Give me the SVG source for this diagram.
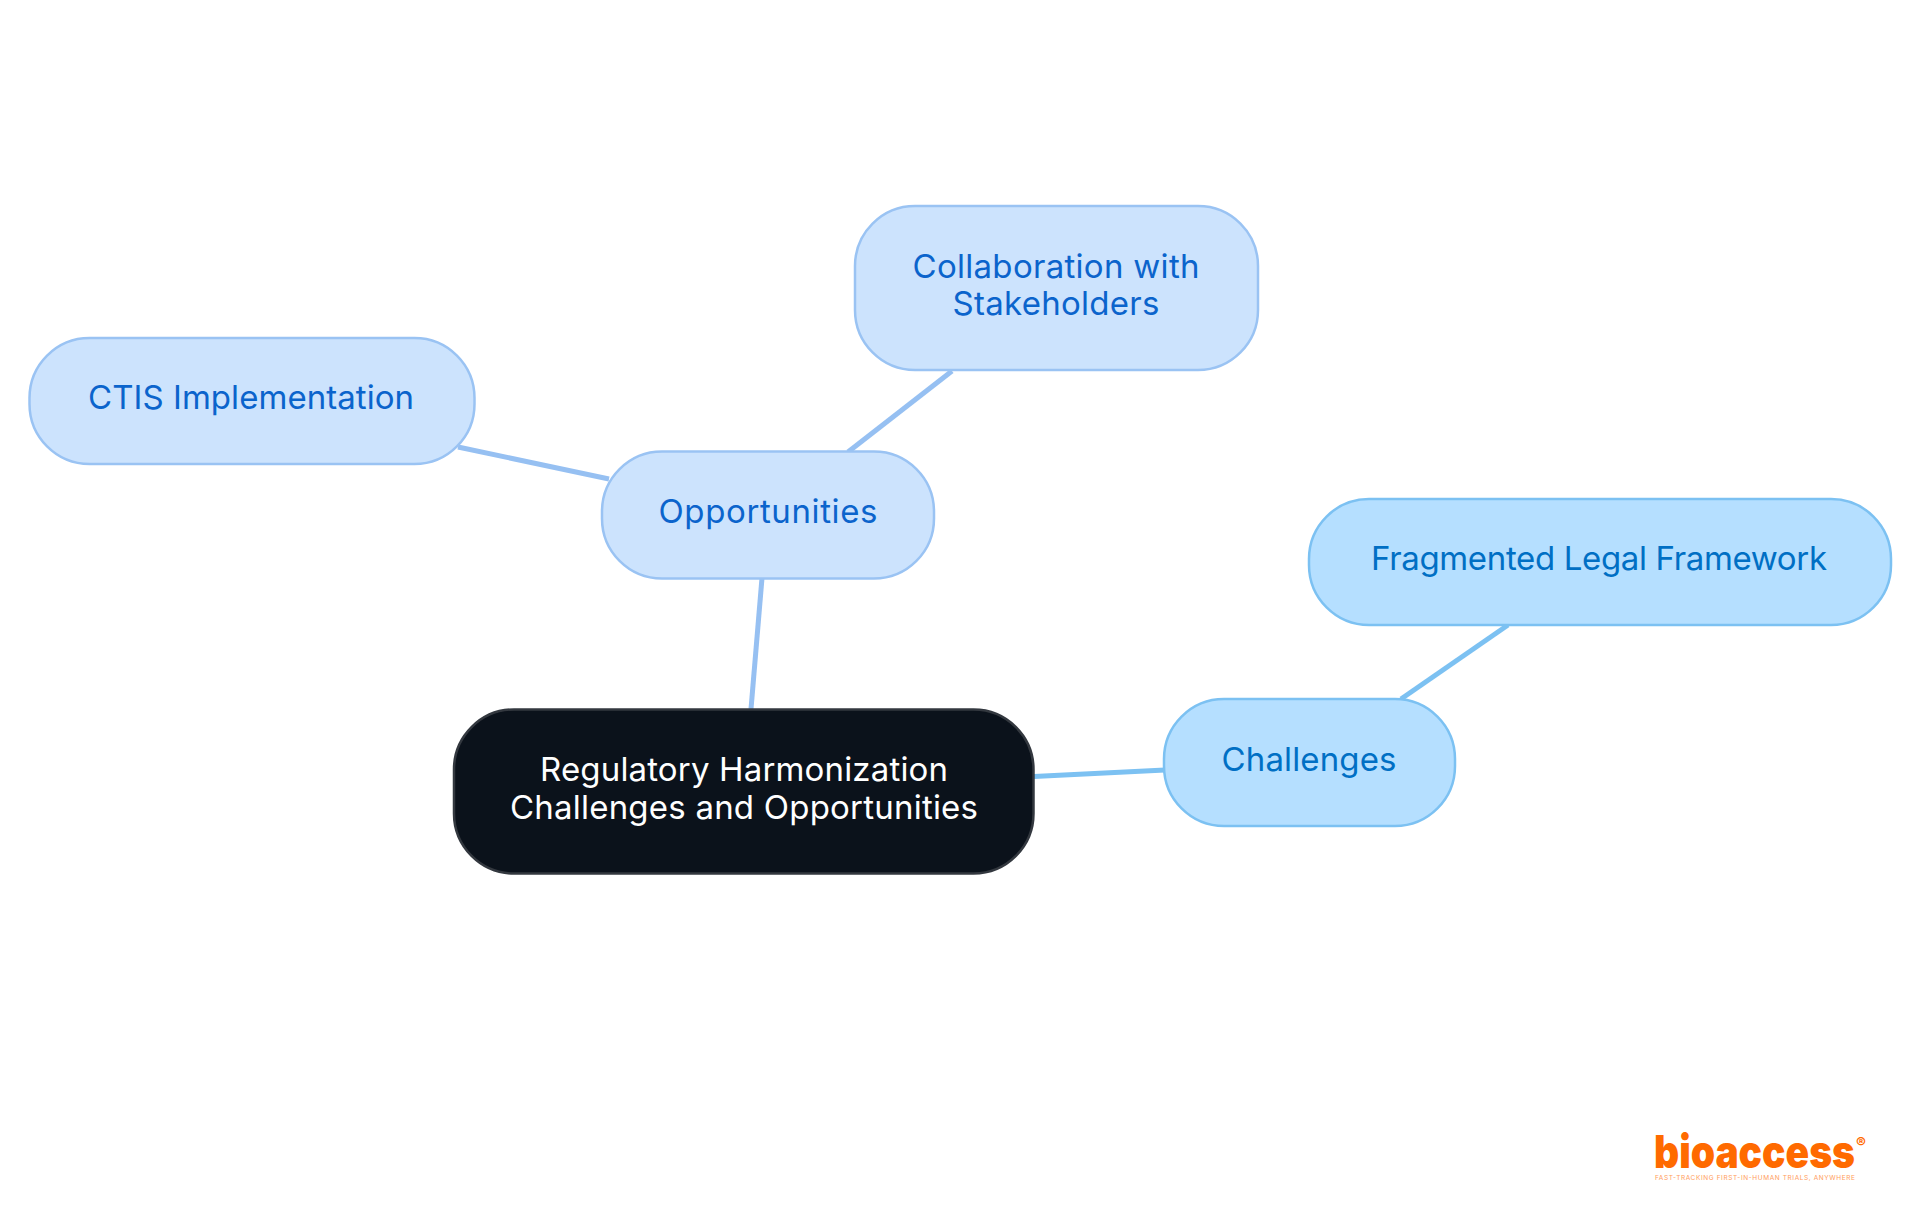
<svg xmlns="http://www.w3.org/2000/svg" width="1920" height="1215" viewBox="0 0 1920 1215">
<style>
.n rect{stroke-width:2.5}
.t{font-family:"Inter","Noto Sans",sans-serif;font-size:33px;text-anchor:middle}
.c line{stroke-width:5;stroke-linecap:butt}
.o rect{fill:#cce3fd;stroke:#9ac3f3}.o text{fill:#0b64cc}
.h rect{fill:#b5dfff;stroke:#7cc1f2}.h text{fill:#006fc4}
.l line{stroke:#96c0f2}.m line{stroke:#7cc1f2}
</style>
<rect width="1920" height="1215" fill="#fff"/>
<g id="connectors" class="c">
<g class="l">
<line x1="762" y1="578" x2="751" y2="709"/>
<line x1="458" y1="447" x2="609" y2="479"/>
<line x1="952" y1="371" x2="848" y2="452"/>
</g>
<g class="m">
<line x1="1034" y1="776.500" x2="1165" y2="770"/>
<line x1="1508" y1="625" x2="1401" y2="699"/>
</g>
</g>
<g id="root" class="n">
<rect x="454" y="709.500" width="579.500" height="164" rx="60" fill="#0b121b" stroke="#33383f"/>
<text class="t" fill="#fff" x="744" y="781" textLength="408">Regulatory Harmonization</text>
<text class="t" fill="#fff" x="744" y="819" textLength="468">Challenges and Opportunities</text>
</g>
<g id="opportunities" class="n o">
<rect x="602" y="451.500" width="332" height="127" rx="60"/>
<text class="t" x="768" y="523" textLength="219">Opportunities</text>
</g>
<g id="challenges" class="n h">
<rect x="1164" y="699" width="291" height="127" rx="60"/>
<text class="t" x="1309" y="771" textLength="175">Challenges</text>
</g>
<g id="ctis" class="n o">
<rect x="29.500" y="338" width="445" height="126" rx="60"/>
<text class="t" x="251" y="409" textLength="326">CTIS Implementation</text>
</g>
<g id="collaboration" class="n o">
<rect x="855" y="206" width="403" height="164" rx="60"/>
<text class="t" x="1056" y="278" textLength="287">Collaboration with</text>
<text class="t" x="1056" y="315" textLength="207">Stakeholders</text>
</g>
<g id="fragmented" class="n h">
<rect x="1309" y="499" width="582" height="126" rx="60"/>
<text class="t" x="1599" y="570" textLength="456">Fragmented Legal Framework</text>
</g>
<g id="logo" fill="#ff6a00" font-family="'Inter','Liberation Sans',sans-serif">
<text x="1654" y="1168" font-size="46" font-weight="900" textLength="201" lengthAdjust="spacingAndGlyphs">bioaccess</text>
<text x="1856" y="1148" font-size="15" font-weight="700">®</text>
<text x="1655" y="1180" font-size="6.500" fill="#ff9d5c" textLength="200">FAST-TRACKING FIRST-IN-HUMAN TRIALS, ANYWHERE</text>
</g>
</svg>
